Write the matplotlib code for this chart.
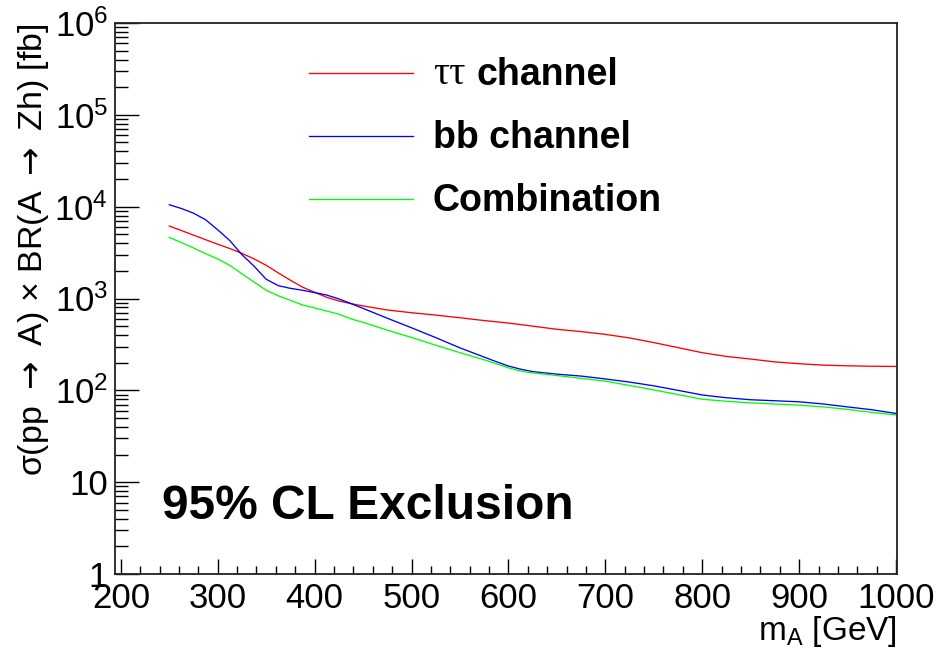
import math
import matplotlib
matplotlib.use("Agg")
import matplotlib.pyplot as plt
from matplotlib.ticker import FixedLocator, FuncFormatter, MultipleLocator

plt.rcParams['font.family'] = ['Liberation Sans', 'DejaVu Sans']
plt.rcParams['mathtext.fontset'] = 'custom'
plt.rcParams['mathtext.rm'] = 'Liberation Sans'
plt.rcParams['mathtext.it'] = 'Liberation Sans:italic'
plt.rcParams['mathtext.bf'] = 'Liberation Sans:bold'

# Expected 95% CL upper limits on sigma x BR [fb] versus m_A [GeV]
mass = [250, 262.5, 275, 287.5, 300, 312.5, 325, 337.5, 350, 362.5, 375, 387.5,
        400, 412.5, 425, 437.5, 450, 475, 500, 525, 550, 575, 587.5, 600, 612.5,
        625, 650, 675, 700, 725, 750, 775, 800, 825, 850, 875, 900, 925, 950,
        975, 1000]
tautau = [6150, 5500, 4900, 4370, 3900, 3500, 3100, 2700, 2300, 1900, 1580, 1330,
          1170, 1030, 940, 880, 830, 750, 700, 660, 617, 575, 558, 540, 520,
          500, 462, 436, 407, 372, 331, 292, 257, 234, 219, 204, 195, 188, 185,
          183, 182]
bb = [10500, 9550, 8500, 7200, 5600, 4270, 3000, 2250, 1620, 1380, 1290, 1230,
      1160, 1090, 990, 880, 780, 610, 480, 375, 290, 230, 205, 184, 170,
      160, 150, 143, 133, 123, 112, 100, 89, 83, 79, 77, 75, 71, 66,
      61.5, 56]
combined = [4620, 4070, 3550, 3080, 2700, 2290, 1860, 1510, 1230, 1070, 955, 850,
            790, 730, 675, 600, 550, 452, 376, 310, 257, 215, 195, 176, 162,
            155, 145, 135, 126, 113, 101, 90, 80, 76, 73, 71, 69, 66, 62,
            57.5, 54]

series_labels = ["channel", "bb channel", "Combination"]
series_colors = ["#ff0000", "#0000ff", "#00ff00"]

W, H = 937, 651
fig = plt.figure(figsize=(W / 100, H / 100), dpi=100)
ax = fig.add_axes([115 / W, 1 - 574 / H, (897 - 115) / W, (574 - 23) / H])

for vals, col in zip([tautau, bb, combined], series_colors):
    ax.plot(mass, vals, color=col, lw=0.95, solid_joinstyle='round')

ax.set_yscale('log')
ax.set_xlim(194, 1001)
ax.set_ylim(1, 1e6)

ax.xaxis.set_major_locator(MultipleLocator(100))
ax.xaxis.set_minor_locator(MultipleLocator(20))
ax.yaxis.set_major_locator(FixedLocator([1, 10, 100, 1e3, 1e4, 1e5, 1e6]))
minors = [m * 10 ** e for e in range(0, 6) for m in range(2, 10)]
ax.yaxis.set_minor_locator(FixedLocator(minors))


def ylab(v, pos):
    e = int(round(math.log10(v)))
    if e == 0:
        return "1"
    if e == 1:
        return "10"
    return r"$10^{%d}$" % e


ax.yaxis.set_major_formatter(FuncFormatter(ylab))
ax.yaxis.set_minor_formatter(FuncFormatter(lambda v, p: ""))

ax.tick_params(axis='both', which='both', direction='in', top=False, right=False,
               labelsize=25, width=1.0, color='black')
ax.tick_params(axis='x', which='major', length=11, pad=6)
ax.tick_params(axis='x', which='minor', length=5.5)
ax.tick_params(axis='y', which='major', length=17, pad=5)
ax.tick_params(axis='y', which='minor', length=9)
for s in ax.spines.values():
    s.set_linewidth(1.3)
    s.set_color('#222222')

# axis titles
fig.text(897 / W, 1 - 640 / H, r"m$_{\mathrm{A}}$ [GeV]", ha='right', va='baseline',
         fontsize=24)
fig.text(42 / W, 1 - 23 / H,
         r"σ(pp $\rightarrow$ A) × BR(A $\rightarrow$ Zh) [fb]",
         rotation=90, rotation_mode='anchor', ha='right', va='baseline',
         fontsize=24.5, math_fontfamily='dejavusans')

# legend
legend_y = [75, 138, 201]
for yy, col in zip(legend_y, series_colors):
    fig.add_artist(plt.Line2D([309 / W, 413 / W], [1 - (yy - 2) / H, 1 - (yy - 2) / H],
                              color=col, lw=0.95, transform=fig.transFigure))
fig.text(433 / W, 1 - legend_y[0] / H, "ττ", family=['Liberation Serif', 'DejaVu Serif'],
         fontsize=29, va='center')
fig.text(477 / W, 1 - legend_y[0] / H, series_labels[0], fontsize=27, fontweight='bold',
         va='center')
fig.text(433 / W, 1 - legend_y[1] / H, series_labels[1], fontsize=27, fontweight='bold',
         va='center')
fig.text(433 / W, 1 - legend_y[2] / H, series_labels[2], fontsize=27, fontweight='bold',
         va='center')

fig.text(162 / W, 1 - 519 / H, "95% CL Exclusion", fontsize=34.5, fontweight='bold',
         va='baseline')

fig.savefig("out.png", dpi=100)
